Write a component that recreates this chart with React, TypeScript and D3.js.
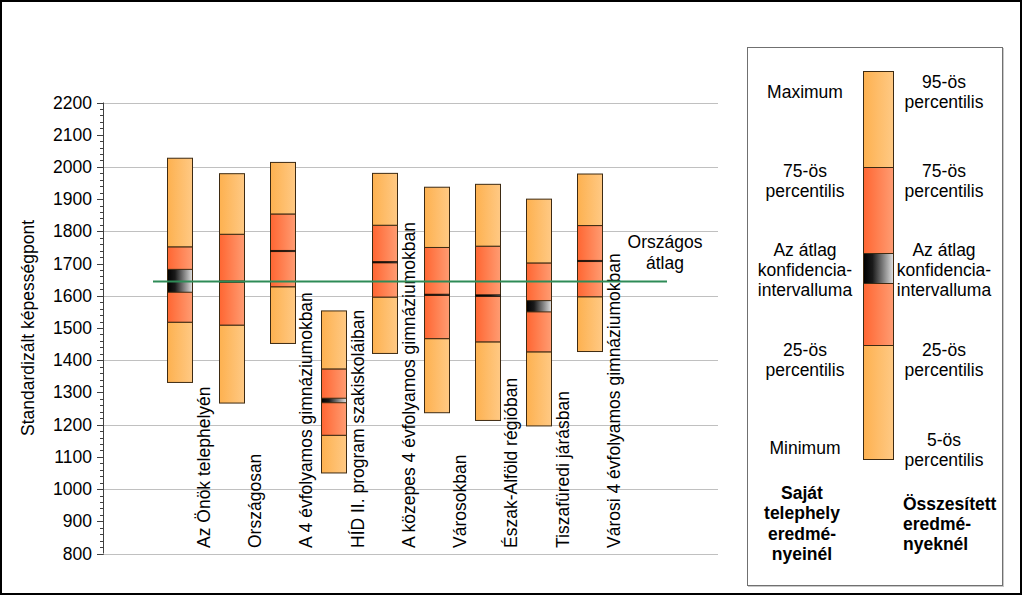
import React from "react";
import * as d3 from "d3";

const categories = [
  "Az Önök telephelyén",
  "Országosan",
  "A 4 évfolyamos gimnáziumokban",
  "HÍD II. program szakiskoláiban",
  "A közepes 4 évfolyamos gimnáziumokban",
  "Városokban",
  "Észak-Alföld régióban",
  "Tiszafüredi járásban",
  "Városi 4 évfolyamos gimnáziumokban",
];
const maxVals = [2027, 1979, 2014, 1553, 1980, 1937, 1946, 1900, 1978];
const p75Vals = [1752, 1791, 1854, 1373, 1819, 1750, 1754, 1702, 1818];
const ciHigh = [1682, 1646, 1741, 1282, 1706, 1605, 1603, 1585, 1710];
const ciLow = [1611, 1642, 1737, 1268, 1702, 1601, 1598, 1550, 1706];
const p25Vals = [1518, 1509, 1628, 1167, 1596, 1467, 1457, 1426, 1597];
const minVals = [1331, 1267, 1452, 1050, 1421, 1237, 1213, 1196, 1427];
const nationalAvg = 1644;
const yMajorTicks = d3.range(800, 2201, 100);
const yMinorTicks = d3.range(800, 2201, 20);
const yGrid = d3.range(800, 2201, 200);
const yTitle = "Standardizált képességpont";
const avgLabel = ["Országos", "átlag"];

const FONT = "'Liberation Sans', Arial, sans-serif";
const FS = 17.5;

export default function App() {
  const W = 1024, H = 597;
  const y = d3.scaleLinear().domain([800, 2200]).range([553.5, 102.5]);
  const slots = d3.range(12).map(String);
  const x = d3.scaleBand().domain(slots).range([103, 718]);
  const bw = 25;
  const cx = (i: number) => (x(String(i + 1)) as number) + x.bandwidth() / 2;
  const stroke = "#3d2a12";

  const legX = 863.5, legW = 30;
  const leg = { top: 71.5, p75: 167.5, ciT: 253.5, ciB: 283.5, p25: 345.5, bot: 459.5 };

  const T = (props: any) => (
    <text fontFamily={FONT} fontSize={FS} fill="#000" {...props} />
  );

  return (
    <svg width={W} height={H} style={{ position: "fixed", left: 0, top: 0, background: "#fff" }}>
      <defs>
        <linearGradient id="lightG" x1="0" x2="1" y1="0" y2="0">
          <stop offset="0" stopColor="#FDB150" />
          <stop offset="1" stopColor="#FFC984" />
        </linearGradient>
        <linearGradient id="redG" x1="0" x2="1" y1="0" y2="0">
          <stop offset="0" stopColor="#FF6632" />
          <stop offset="1" stopColor="#FF9C72" />
        </linearGradient>
        <linearGradient id="ciG" x1="0" x2="1" y1="0" y2="0">
          <stop offset="0" stopColor="#000" />
          <stop offset="0.3" stopColor="#1a1a1a" />
          <stop offset="1" stopColor="#e0e0e0" />
        </linearGradient>
        <linearGradient id="ciThin" x1="0" x2="1" y1="0" y2="0">
          <stop offset="0" stopColor="#000" />
          <stop offset="0.6" stopColor="#111" />
          <stop offset="1" stopColor="#555" />
        </linearGradient>
      </defs>
      <rect x={0} y={0} width={W} height={H} fill="#fff" />
      <rect x={1} y={1} width={1020} height={593} fill="none" stroke="#000" strokeWidth={2} />

      {/* gridlines */}
      {yGrid.map((v) => (
        <line key={v} x1={103} x2={718} y1={Math.round(y(v)) + 0.5} y2={Math.round(y(v)) + 0.5} stroke="#c0c0c0" strokeWidth={1} />
      ))}

      {/* y axis */}
      <line x1={103.5} x2={103.5} y1={y(2200)} y2={y(800)} stroke="#404040" strokeWidth={1} />
      {yMinorTicks.map((v) => (
        <line key={"m" + v} x1={100} x2={103.5} y1={Math.round(y(v)) + 0.5} y2={Math.round(y(v)) + 0.5} stroke="#404040" />
      ))}
      {yMajorTicks.map((v) => (
        <g key={"M" + v}>
          <line x1={97} x2={103.5} y1={Math.round(y(v)) + 0.5} y2={Math.round(y(v)) + 0.5} stroke="#404040" />
          <T x={92} y={y(v)} textAnchor="end" dominantBaseline="central">{v}</T>
        </g>
      ))}
      <T transform={`translate(28,${(y(800) + y(2200)) / 2}) rotate(-90)`} textAnchor="middle" dominantBaseline="central">
        {yTitle}
      </T>

      {/* category labels */}
      {categories.map((c, i) => (
        <T key={c} transform={`translate(${cx(i) + 30},548) rotate(-90)`} textAnchor="start">
          {c}
        </T>
      ))}

      {/* bars */}
      {categories.map((c, i) => {
        const x0 = Math.round(cx(i) - bw / 2) + 0.5;
        const seg = (a: number, b: number, fill: string, key: string) => (
          <rect key={key} x={x0} width={bw} y={y(b)} height={Math.max(0, y(a) - y(b))} fill={fill} stroke={stroke} strokeWidth={1} />
        );
        const ciH = y(ciLow[i]) - y(ciHigh[i]);
        return (
          <g key={"b" + c}>
            {seg(minVals[i], p25Vals[i], "url(#lightG)", "a")}
            {seg(p25Vals[i], p75Vals[i], "url(#redG)", "b")}
            {seg(p75Vals[i], maxVals[i], "url(#lightG)", "c")}
            {ciH > 4 ? (
              <rect x={x0} width={bw} y={y(ciHigh[i])} height={ciH} fill="url(#ciG)" stroke={stroke} strokeWidth={1} />
            ) : (
              <rect x={x0} width={bw} y={y(ciHigh[i])} height={ciH} fill="url(#ciThin)" stroke="#1a1208" strokeWidth={0.8} />
            )}
          </g>
        );
      })}

      {/* national average */}
      <line x1={153} x2={667} y1={y(nationalAvg)} y2={y(nationalAvg)} stroke="#2E8B57" strokeWidth={2} />
      {avgLabel.map((t, k) => (
        <T key={t} x={665} y={248 + k * 21} textAnchor="middle">{t}</T>
      ))}

      {/* legend */}
      <rect x={748.5} y={48.5} width={255} height={538} fill="none" stroke="#c8c8c8" strokeWidth={1} />
      <rect x={747.5} y={47.5} width={255} height={538} fill="#fff" stroke="#707070" strokeWidth={1} />
      <rect x={legX} width={legW} y={leg.top} height={leg.p75 - leg.top} fill="url(#lightG)" stroke={stroke} />
      <rect x={legX} width={legW} y={leg.p75} height={leg.p25 - leg.p75} fill="url(#redG)" stroke={stroke} />
      <rect x={legX} width={legW} y={leg.ciT} height={leg.ciB - leg.ciT} fill="url(#ciG)" stroke={stroke} />
      <rect x={legX} width={legW} y={leg.p25} height={leg.bot - leg.p25} fill="url(#lightG)" stroke={stroke} />

      {[
        { x: 805, lines: ["Maximum"], y0: 92 },
        { x: 805, lines: ["75-ös", "percentilis"], y0: 171 },
        { x: 805, lines: ["Az átlag", "konfidencia-", "intervalluma"], y0: 250 },
        { x: 805, lines: ["25-ös", "percentilis"], y0: 350 },
        { x: 805, lines: ["Minimum"], y0: 447.5 },
        { x: 944, lines: ["95-ös", "percentilis"], y0: 82 },
        { x: 944, lines: ["75-ös", "percentilis"], y0: 171 },
        { x: 944, lines: ["Az átlag", "konfidencia-", "intervalluma"], y0: 250 },
        { x: 944, lines: ["25-ös", "percentilis"], y0: 350 },
        { x: 944, lines: ["5-ös", "percentilis"], y0: 439.5 },
      ].map((g, gi) =>
        g.lines.map((l, li) => (
          <T key={gi + "-" + li} x={g.x} y={g.y0 + li * 20} textAnchor="middle" dominantBaseline="central">{l}</T>
        ))
      )}
      {["Saját", "telephely", "eredmé-", "nyeinél"].map((l, li) => (
        <T key={"s" + li} x={802} y={492.5 + li * 20.5} textAnchor="middle" dominantBaseline="central" fontWeight="bold">{l}</T>
      ))}
      {["Összesített", "eredmé-", "nyeknél"].map((l, li) => (
        <T key={"o" + li} x={903} y={503.5 + li * 20} textAnchor="start" dominantBaseline="central" fontWeight="bold">{l}</T>
      ))}
    </svg>
  );
}
